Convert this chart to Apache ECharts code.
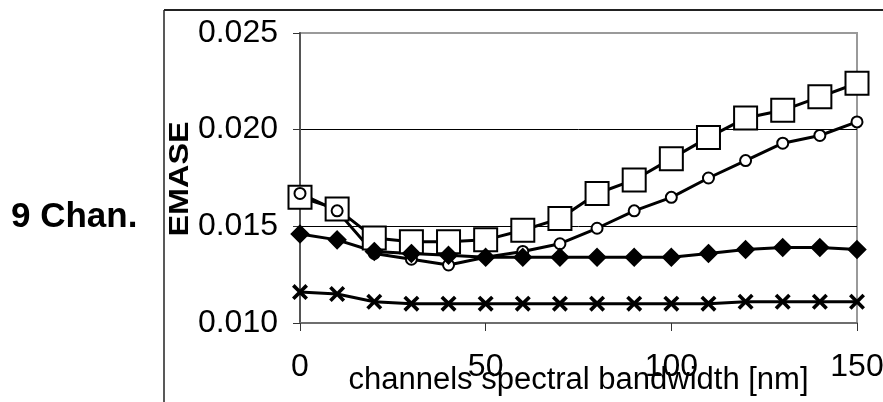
<!DOCTYPE html>
<html>
<head>
<meta charset="utf-8">
<script src="https://cdn.jsdelivr.net/npm/echarts@6/dist/echarts.min.js"></script>
<style>
  html, body { margin: 0; padding: 0; background: #fff; }
  #chart { width: 883px; height: 402px; }
</style>
</head>
<body>
<div id="chart"></div>
<script>
// channel spectral bandwidth [nm]
const bandwidth = [0, 10, 20, 30, 40, 50, 60, 70, 80, 90, 100, 110, 120, 130, 140, 150];

// EMASE per marker series
const squareSeries = [0.0165, 0.0159, 0.0144, 0.0142, 0.0142, 0.0143, 0.0148, 0.0154, 0.0167, 0.0174, 0.0185, 0.0196, 0.0206, 0.0210, 0.0217, 0.0224];
const circleSeries = [0.0167, 0.0158, 0.0136, 0.0133, 0.0130, 0.0134, 0.0137, 0.0141, 0.0149, 0.0158, 0.0165, 0.0175, 0.0184, 0.0193, 0.0197, 0.0204];
const diamondSeries = [0.0146, 0.0143, 0.0137, 0.0136, 0.0135, 0.0134, 0.0134, 0.0134, 0.0134, 0.0134, 0.0134, 0.0136, 0.0138, 0.0139, 0.0139, 0.0138];
const crossSeries = [0.0116, 0.0115, 0.0111, 0.0110, 0.0110, 0.0110, 0.0110, 0.0110, 0.0110, 0.0110, 0.0110, 0.0110, 0.0111, 0.0111, 0.0111, 0.0111];

const font = "'Liberation Sans', Arial, sans-serif";
const crossPath = 'path://M0,1.6L1.6,0L5,3.4L8.4,0L10,1.6L6.6,5L10,8.4L8.4,10L5,6.6L1.6,10L0,8.4L3.4,5Z';

function pairs(values) {
  return bandwidth.map((x, i) => [x, values[i]]);
}

function lineSeries(name, values, symbol, size, extra) {
  return Object.assign({
    name: name,
    type: 'line',
    data: pairs(values),
    symbol: symbol,
    symbolSize: size,
    showAllSymbol: true,
    lineStyle: { color: '#000', width: 3 },
    itemStyle: { color: '#000', borderColor: '#000', borderWidth: 2.5 },
    emphasis: { disabled: true },
    animation: false
  }, extra || {});
}

const chart = echarts.init(document.getElementById('chart'));

chart.setOption({
  backgroundColor: '#fff',
  animation: false,
  grid: {
    left: 300, right: 26, top: 33, bottom: 79,
    show: true, borderColor: '#9a9a9a', borderWidth: 2,
    outerBoundsMode: 'none'
  },
  xAxis: {
    type: 'value',
    min: 0, max: 150, interval: 50,
    name: 'channels spectral bandwidth [nm]',
    nameLocation: 'middle',
    nameGap: 42,
    nameMoveOverlap: false,
    nameTextStyle: { fontFamily: font, fontSize: 31, color: '#000' },
    axisLine: { lineStyle: { color: '#6e6e6e', width: 2 } },
    axisTick: { length: 8, lineStyle: { color: '#333', width: 1 } },
    axisLabel: { fontFamily: font, fontSize: 32, color: '#000', margin: 28 },
    splitLine: { show: false }
  },
  yAxis: {
    type: 'value',
    min: 0.010, max: 0.025, interval: 0.005,
    axisLine: { show: true, lineStyle: { color: '#555', width: 2 } },
    axisTick: { show: true, length: 7, lineStyle: { color: '#333', width: 1 } },
    axisLabel: {
      fontFamily: font, fontSize: 32, color: '#000', margin: 22,
      formatter: v => v.toFixed(3)
    },
    splitLine: { show: true, showMinLine: false, showMaxLine: false, lineStyle: { color: '#000', width: 1 } }
  },
  graphic: [
    { type: 'line', shape: { x1: 164, y1: 10, x2: 883, y2: 10 }, style: { stroke: '#222', lineWidth: 2 } },
    { type: 'line', shape: { x1: 164, y1: 10, x2: 164, y2: 402 }, style: { stroke: '#222', lineWidth: 1.5 } },
    {
      type: 'text', x: 11, y: 217,
      style: { text: '9 Chan.', font: 'bold 35px ' + font, fill: '#000', textVerticalAlign: 'middle' }
    },
    {
      type: 'text', x: 181, y: 179, rotation: Math.PI / 2, scaleX: 1.2,
      style: { text: 'EMASE', font: 'bold 27px ' + font, fill: '#000', textAlign: 'center', textVerticalAlign: 'middle' }
    }
  ],
  series: [
    lineSeries('square', squareSeries, 'emptyRect', 23),
    lineSeries('circle', circleSeries, 'emptyCircle', 11, { itemStyle: { color: '#000', borderColor: '#000', borderWidth: 2.2 } }),
    lineSeries('diamond', diamondSeries, 'diamond', 16),
    lineSeries('cross', crossSeries, crossPath, 16, { itemStyle: { color: '#000', borderWidth: 0 } })
  ]
});
</script>
</body>
</html>
